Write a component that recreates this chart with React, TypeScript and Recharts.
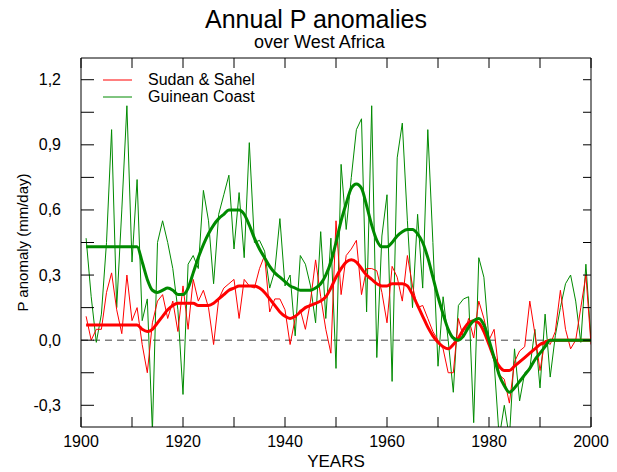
import React from 'react';
import { LineChart, Line, XAxis, YAxis, ReferenceLine } from 'recharts';

const years: number[] = Array.from({ length: 100 }, (_, i) => 1901 + i);

const sudanSahel: number[] = [
  0.11, 0.0, 0.05, 0.05, 0.22, 0.31, 0.14, 0.03, 0.30, 0.09,
  0.15, -0.02, -0.15, 0.08, 0.18, 0.21, 0.10, 0.18, 0.04, 0.25,
  0.05, 0.28, 0.18, 0.23, 0.15, -0.02, 0.19, 0.24, 0.26, 0.28,
  0.10, 0.28, 0.25, 0.24, 0.33, 0.39, 0.13, 0.19, 0.19, 0.14,
  -0.02, 0.10, 0.14, 0.05, 0.18, 0.37, 0.20, 0.05, -0.06, 0.55,
  0.21, 0.39, 0.42, 0.46, 0.21, 0.33, 0.33, 0.32, 0.22, 0.08,
  0.34, 0.29, 0.18, 0.39, 0.25, 0.15, 0.16, 0.10, 0.04, 0.0,
  -0.04, -0.15, -0.15, 0.10, 0.01, 0.10, 0.01, 0.18, 0.10, 0.0,
  0.05, -0.16, -0.18, -0.29, -0.10, -0.05, -0.03, 0.18, 0.03, -0.14,
  0.0, -0.02, 0.04, 0.23, 0.05, -0.04, 0.0, 0.15, 0.30, -0.02,
];

const guineanCoast: number[] = [
  0.47, 0.20, -0.01, 0.12, 0.45, 0.97, 0.15, 0.60, 1.08, 0.36,
  0.74, 0.09, 0.19, -0.42, 0.45, 0.55, 0.45, 0.33, 0.14, -0.25,
  0.35, 0.39, 0.33, 0.69, 0.55, 0.26, 0.58, 0.67, 0.76, 0.42,
  0.68, 0.38, 0.91, 0.45, 0.46, 0.41, 0.24, 0.32, 0.56, 0.25,
  0.30, 0.02, 0.39, 0.35, 0.25, 0.08, 0.50, 0.10, 0.47, -0.13,
  0.81, 0.51, 0.75, 0.97, 1.02, 0.13, 1.08, -0.08, 0.48, 0.67,
  -0.19, 0.84, 1.00, 0.55, 0.15, 0.58, 0.24, 0.97, 0.45, -0.12,
  0.20, 0.0, -0.24, 0.16, 0.19, 0.20, -0.38, 0.38, 0.29, 0.0,
  -0.10, -0.45, -0.30, -0.45, -0.04, -0.28, -0.15, -0.13, 0.05, -0.22,
  0.12, -0.17, 0.02, 0.15, 0.26, 0.30, 0.18, -0.01, 0.35, 0.0,
];

const sudanSahelSmooth: number[] = [
  0.07, 0.07, 0.07, 0.07, 0.07, 0.07, 0.07, 0.07, 0.07, 0.07,
  0.07, 0.05, 0.04, 0.05, 0.08, 0.11, 0.14, 0.16, 0.17, 0.17,
  0.17, 0.17, 0.16, 0.16, 0.16, 0.17, 0.19, 0.21, 0.23, 0.24,
  0.25, 0.25, 0.25, 0.25, 0.24, 0.22, 0.19, 0.16, 0.13, 0.11,
  0.10, 0.11, 0.13, 0.15, 0.16, 0.17, 0.18, 0.20, 0.24, 0.29,
  0.33, 0.36, 0.37, 0.36, 0.33, 0.30, 0.28, 0.26, 0.25, 0.25,
  0.26, 0.26, 0.26, 0.25, 0.21, 0.16, 0.11, 0.06, 0.02, -0.01,
  -0.03, -0.04, -0.02, 0.01, 0.05, 0.08, 0.09, 0.08, 0.04, -0.02,
  -0.08, -0.12, -0.14, -0.14, -0.12, -0.10, -0.08, -0.06, -0.04, -0.02,
  -0.01, 0.0, 0.0, 0.0, 0.0, 0.0, 0.0, 0.0, 0.0, 0.0,
];

const guineanCoastSmooth: number[] = [
  0.43, 0.43, 0.43, 0.43, 0.43, 0.43, 0.43, 0.43, 0.43, 0.43,
  0.43, 0.36, 0.28, 0.23, 0.22, 0.23, 0.24, 0.23, 0.21, 0.21,
  0.24, 0.31, 0.38, 0.44, 0.49, 0.53, 0.56, 0.58, 0.60, 0.60,
  0.60, 0.58, 0.53, 0.47, 0.42, 0.38, 0.34, 0.31, 0.29, 0.27,
  0.25, 0.24, 0.23, 0.23, 0.23, 0.24, 0.26, 0.30, 0.36, 0.45,
  0.55, 0.63, 0.70, 0.72, 0.70, 0.62, 0.53, 0.46, 0.43, 0.43,
  0.45, 0.48, 0.50, 0.51, 0.51, 0.49, 0.45, 0.38, 0.29, 0.20,
  0.12, 0.05, 0.01, 0.0, 0.02, 0.06, 0.09, 0.10, 0.07, 0.0,
  -0.08, -0.16, -0.21, -0.24, -0.22, -0.19, -0.16, -0.13, -0.09, -0.06,
  -0.03, 0.0, 0.0, 0.0, 0.0, 0.0, 0.0, 0.0, 0.0, 0.0,
];

const xTicks: number[] = [1900, 1910, 1920, 1930, 1940, 1950, 1960, 1970, 1980, 1990, 2000];
const xLabelYears: number[] = [1900, 1920, 1940, 1960, 1980, 2000];
const yTicks: number[] = [-0.3, -0.15, 0, 0.15, 0.3, 0.45, 0.6, 0.75, 0.9, 1.05, 1.2];
const yLabelValues: number[] = [-0.3, 0, 0.3, 0.6, 0.9, 1.2];

const data = years.map((year, i) => ({
  year,
  ss: sudanSahel[i],
  gc: guineanCoast[i],
  ssS: sudanSahelSmooth[i],
  gcS: guineanCoastSmooth[i],
}));

const FONT = '"Liberation Sans", Arial, sans-serif';
const RED = '#ff0000';
const GREEN = '#008a00';

const fmt = (v: number) => v.toFixed(1).replace('.', ',');

const LeftTick = (props: any) => {
  const { x, y, payload } = props;
  const v = payload.value;
  const labeled = yLabelValues.some((l) => Math.abs(l - v) < 1e-6);
  return (
    <g>
      <line x1={x} y1={y} x2={x + 13} y2={y} stroke="#000" strokeWidth={1} />
      {labeled && (
        <text x={x - 20} y={y} textAnchor="end" dominantBaseline="central" fontFamily={FONT} fontSize={16} fill="#000">
          {fmt(v)}
        </text>
      )}
    </g>
  );
};

const RightTick = (props: any) => {
  const { x, y } = props;
  return <line x1={x} y1={y} x2={x - 8} y2={y} stroke="#000" strokeWidth={1} />;
};

const BottomTick = (props: any) => {
  const { x, y, payload } = props;
  const v = payload.value;
  const labeled = xLabelYears.includes(v);
  return (
    <g>
      <line x1={x} y1={y} x2={x} y2={y - 10} stroke="#000" strokeWidth={1} />
      {labeled && (
        <text x={x} y={y + 20} textAnchor="middle" fontFamily={FONT} fontSize={16} fill="#000">
          {v}
        </text>
      )}
    </g>
  );
};

const TopTick = (props: any) => {
  const { x, y } = props;
  return <line x1={x} y1={y} x2={x} y2={y + 10} stroke="#000" strokeWidth={1} />;
};

export default function App() {
  return (
    <div style={{ position: 'absolute', left: 0, top: 0, width: 617, height: 472, background: '#fff' }}>
      <div style={{ position: 'absolute', left: 205, top: 5, whiteSpace: 'nowrap', fontFamily: FONT, fontSize: 25, lineHeight: '28px', color: '#000' }}>
        Annual P anomalies
      </div>
      <div style={{ position: 'absolute', left: 254, top: 32, whiteSpace: 'nowrap', fontFamily: FONT, fontSize: 18, lineHeight: '20px', color: '#000' }}>
        over West Africa
      </div>
      <LineChart width={617} height={472} data={data} margin={{ top: 57, right: 25, bottom: 0, left: 6 }}>
        <XAxis
          dataKey="year"
          type="number"
          domain={[1900, 2000]}
          ticks={xTicks}
          allowDataOverflow
          height={45}
          tickSize={0}
          tickMargin={0}
          tickLine={false}
          tick={<BottomTick />}
          interval={0}
          stroke="#000"
          label={{ value: 'YEARS', position: 'insideBottom', offset: 5, fontFamily: FONT, fontSize: 17, fill: '#000' }}
        />
        <XAxis
          xAxisId="top"
          orientation="top"
          dataKey="year"
          type="number"
          domain={[1900, 2000]}
          ticks={xTicks}
          allowDataOverflow
          height={1}
          tickSize={0}
          tickMargin={0}
          tickLine={false}
          tick={<TopTick />}
          interval={0}
          stroke="#000"
        />
        <YAxis
          type="number"
          domain={[-0.4, 1.3]}
          ticks={yTicks}
          allowDataOverflow
          width={75}
          tickSize={0}
          tickMargin={0}
          tickLine={false}
          tick={<LeftTick />}
          interval={0}
          stroke="#000"
          label={{ value: 'P anomaly (mm/day)', angle: -90, position: 'insideLeft', offset: 17, fontFamily: FONT, fontSize: 15, fill: '#000', style: { textAnchor: 'middle' } }}
        />
        <YAxis
          yAxisId="right"
          orientation="right"
          type="number"
          domain={[-0.4, 1.3]}
          ticks={yTicks}
          allowDataOverflow
          width={1}
          tickSize={0}
          tickMargin={0}
          tickLine={false}
          tick={<RightTick />}
          interval={0}
          stroke="#000"
        />
        <ReferenceLine y={0} stroke="#444" strokeDasharray="7 5" strokeWidth={1} />
        <Line xAxisId="top" yAxisId="right" type="linear" dataKey="gcS" stroke="none" strokeWidth={0} dot={false} legendType="none" isAnimationActive={false} />
        <Line type="linear" dataKey="gc" stroke={GREEN} strokeWidth={1} dot={false} isAnimationActive={false} />
        <Line type="linear" dataKey="ss" stroke={RED} strokeWidth={1} dot={false} isAnimationActive={false} />
        <Line type="monotone" dataKey="ssS" stroke={RED} strokeWidth={3} dot={false} isAnimationActive={false} />
        <Line type="monotone" dataKey="gcS" stroke={GREEN} strokeWidth={3} dot={false} isAnimationActive={false} />
      </LineChart>
      <svg width={200} height={40} style={{ position: 'absolute', left: 95, top: 68 }}>
        <line x1={8} y1={12} x2={37} y2={12} stroke={RED} strokeWidth={1} />
        <text x={53} y={17} fontFamily={FONT} fontSize={16} fill="#000">Sudan &amp; Sahel</text>
        <line x1={8} y1={29} x2={37} y2={29} stroke={GREEN} strokeWidth={1} />
        <text x={53} y={34} fontFamily={FONT} fontSize={16} fill="#000">Guinean Coast</text>
      </svg>
    </div>
  );
}
